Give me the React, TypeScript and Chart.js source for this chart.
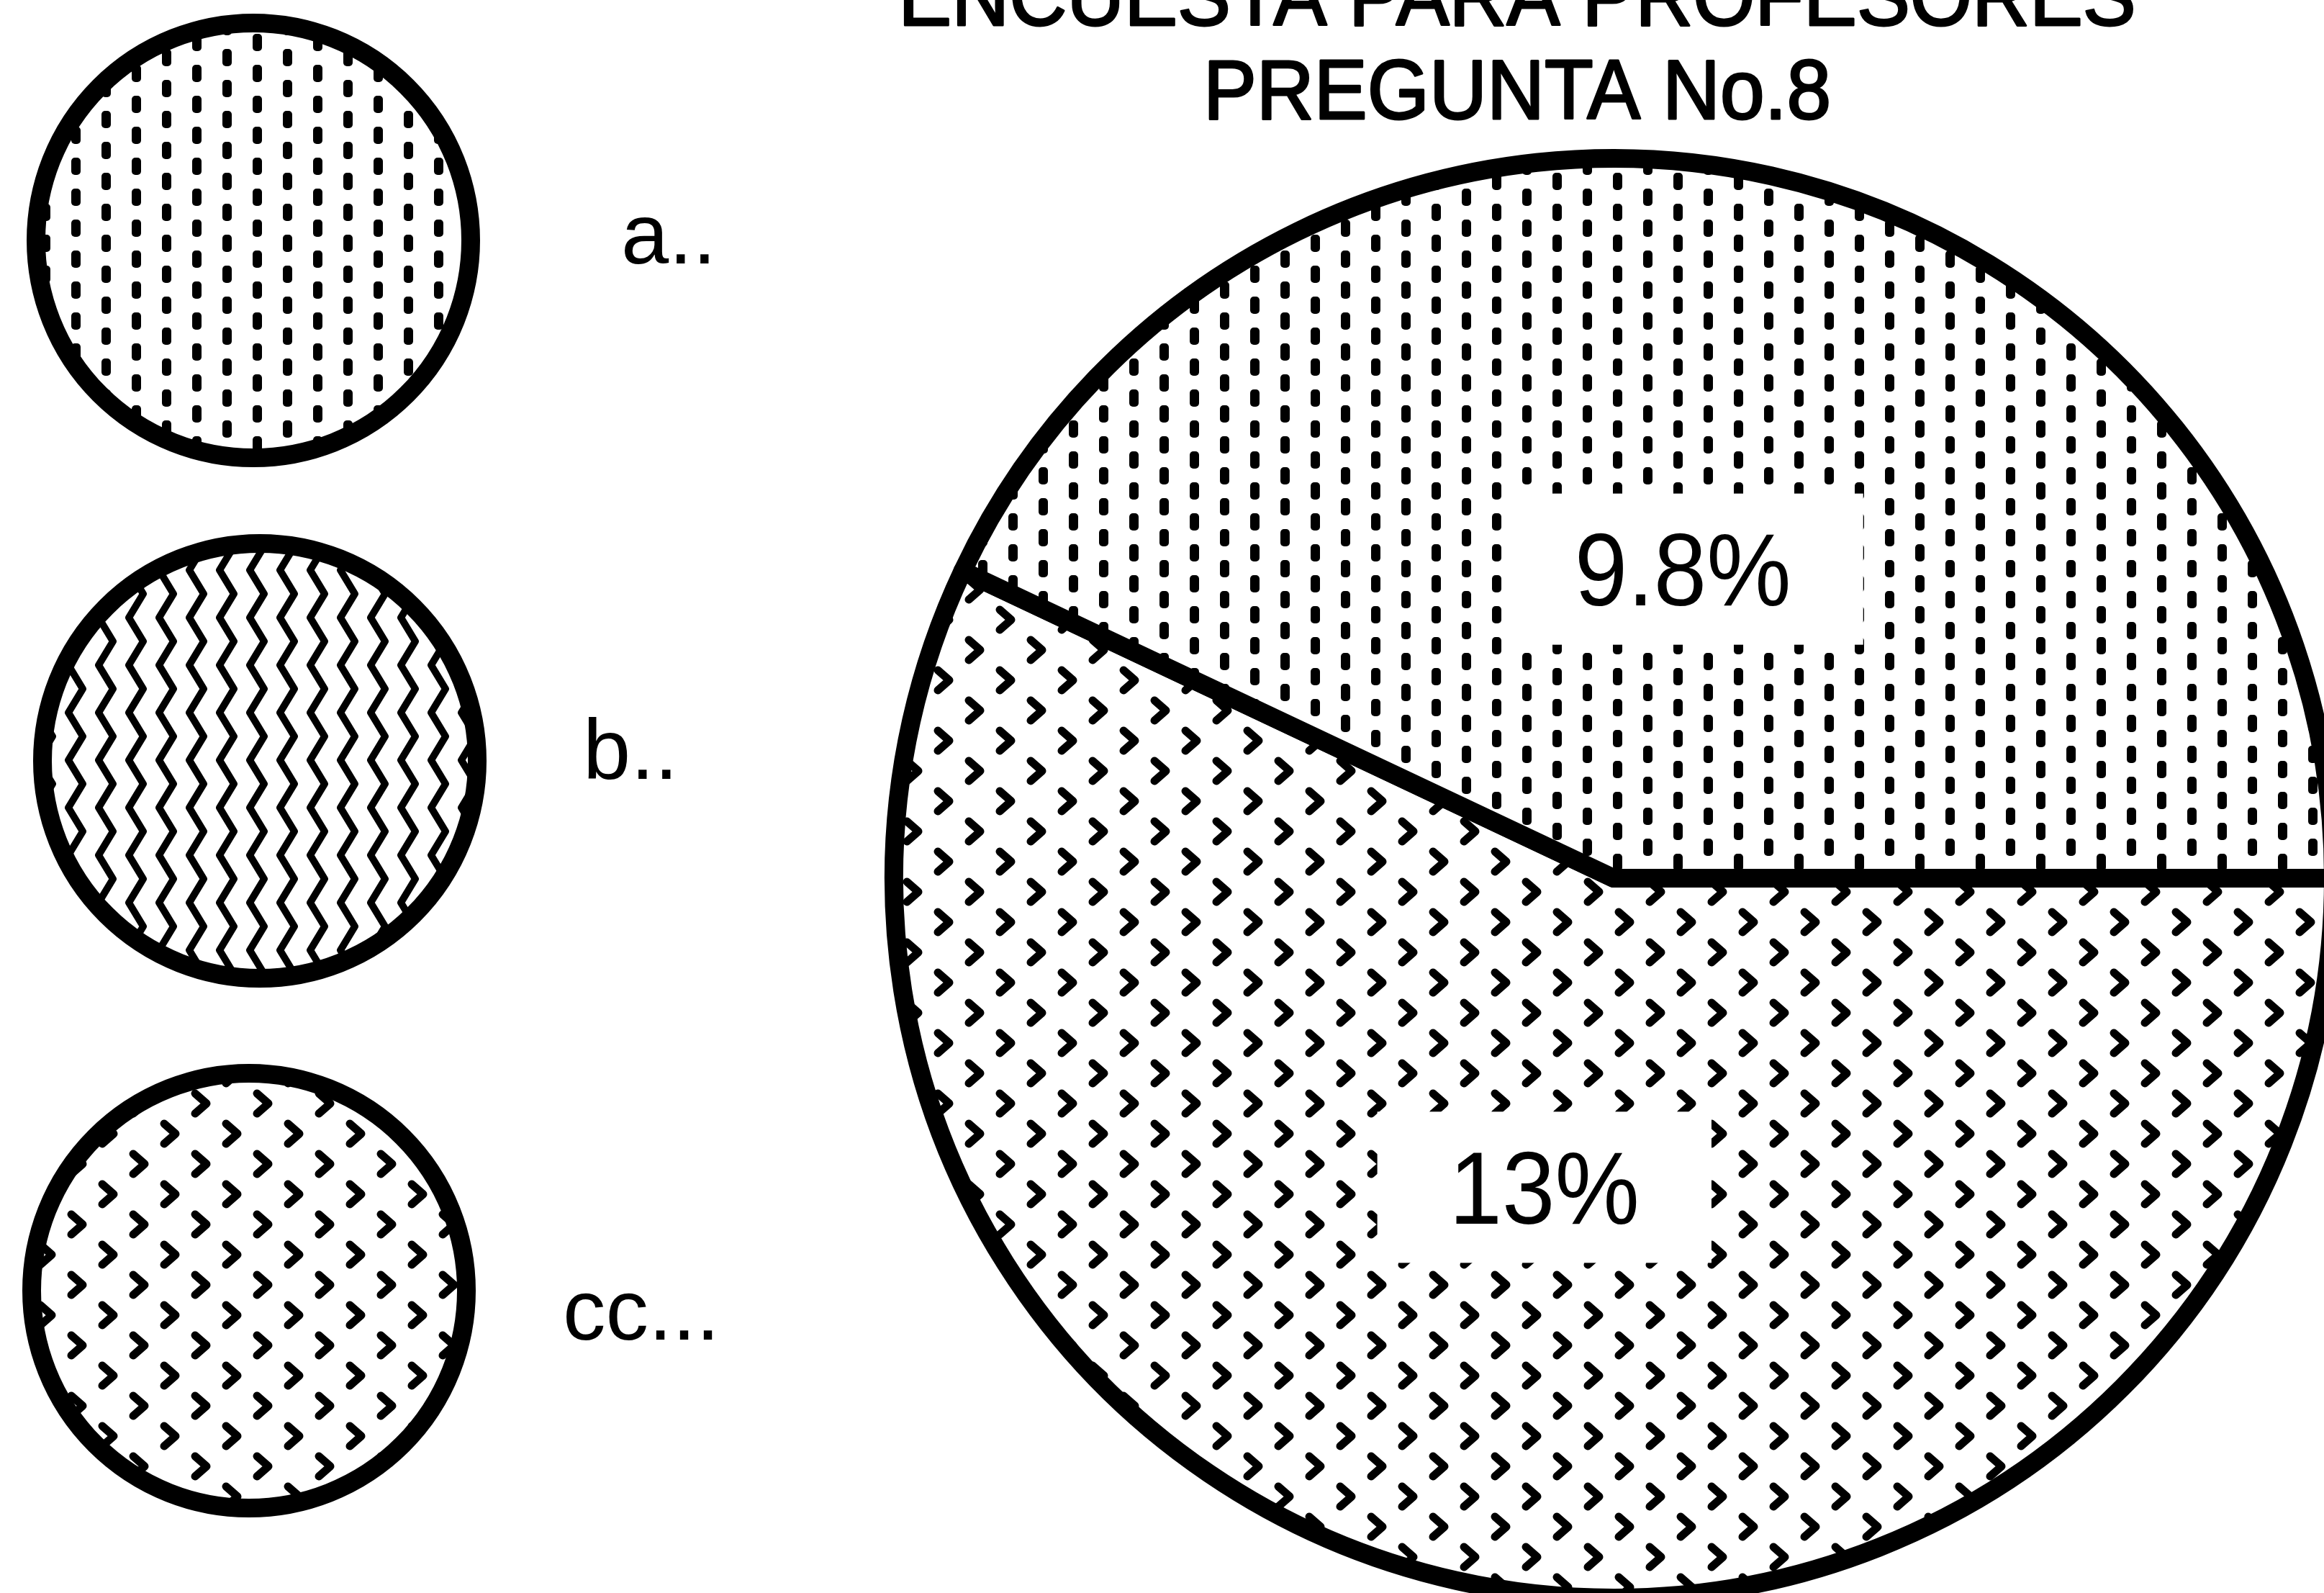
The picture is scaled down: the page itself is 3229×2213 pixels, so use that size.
import React, { useEffect, useRef } from 'react';
import { Chart, registerables } from 'chart.js';

Chart.register(...registerables);

// ---- data ----
const TITLE_LINES = ['ENCUESTA PARA PROFESORES', 'PREGUNTA No.8'];
const LEGEND_LABELS = ['a..', 'b..', 'cc...'];
const LEGEND_FILLS = ['dashes', 'waves', 'chevrons'];
const SLICE_CATEGORIES = ['cc...', 'a..'];
const SLICE_VALUES = [13, 9.8];
const SLICE_FILLS = ['chevrons', 'dashes'];
const SLICE_LABELS = ['13%', '9.8%'];

// ---- layout ----
const W = 3229;
const H = 2213;
const FONT = '"Liberation Sans", Arial, Helvetica, sans-serif';
const PIE_CENTER = { x: 2242, y: 1220 };
const PIE_RADIUS = 1000;
const BORDER = 26;
const LEGEND_LAYOUT = {
  circleX: [352, 361, 346],
  circleY: [334, 1057, 1793],
  radius: 302,
  textX: [863, 810, 782],
  textY: [366, 1082, 1861],
  fontSize: 119,
};
const TITLE_LAYOUT = { x: 2108, baselines: [35, 165], fontSize: 116, scaleX: 0.955 };

function makePattern(kind: string): CanvasPattern {
  const c = document.createElement('canvas');
  const g = c.getContext('2d') as CanvasRenderingContext2D;
  if (kind === 'dashes') {
    c.width = 84;
    c.height = 86;
    g.fillStyle = '#fff';
    g.fillRect(0, 0, c.width, c.height);
    g.fillStyle = '#000';
    const dash = (x: number, y: number) => {
      for (const dy of [-86, 0, 86]) {
        g.beginPath();
        (g as any).roundRect(x, y + dy, 13, 24, 5);
        g.fill();
      }
    };
    dash(15, 4);
    dash(15, 47);
    dash(57, 25);
    dash(57, 68);
  } else if (kind === 'waves') {
    c.width = 42;
    c.height = 66;
    g.fillStyle = '#fff';
    g.fillRect(0, 0, c.width, c.height);
    g.strokeStyle = '#000';
    g.lineWidth = 10;
    g.lineJoin = 'round';
    g.lineCap = 'round';
    for (const dx of [-42, 0, 42]) {
      g.beginPath();
      // zig-zag: left at y=0, right at y=33, left at y=66
      g.moveTo(21 + dx + 10, -33);
      g.lineTo(21 + dx - 10, 0);
      g.lineTo(21 + dx + 10, 33);
      g.lineTo(21 + dx - 10, 66);
      g.lineTo(21 + dx + 10, 99);
      g.stroke();
    }
  } else {
    c.width = 86;
    c.height = 84;
    g.fillStyle = '#fff';
    g.fillRect(0, 0, c.width, c.height);
    g.strokeStyle = '#000';
    g.lineWidth = 11;
    g.lineJoin = 'round';
    g.lineCap = 'round';
    const chev = (cx: number, cy: number) => {
      g.beginPath();
      g.moveTo(cx - 8, cy - 14);
      g.lineTo(cx + 8, cy);
      g.lineTo(cx - 8, cy + 14);
      g.stroke();
    };
    chev(21, 21);
    chev(64, 63);
  }
  return g.createPattern(c, 'repeat') as CanvasPattern;
}

export default function App() {
  const ref = useRef<HTMLCanvasElement | null>(null);

  useEffect(() => {
    const canvas = ref.current;
    if (!canvas) return;
    const patterns: Record<string, CanvasPattern> = {
      dashes: makePattern('dashes'),
      waves: makePattern('waves'),
      chevrons: makePattern('chevrons'),
    };

    const sliceLabelPlugin = {
      id: 'sliceLabels',
      afterDatasetsDraw(chart: any) {
        const ctx = chart.ctx as CanvasRenderingContext2D;
        const meta = chart.getDatasetMeta(0);
        const size = 142;
        const sx = 0.93;
        meta.data.forEach((arc: any, i: number) => {
          const p = arc.getProps(['x', 'y', 'startAngle', 'endAngle', 'outerRadius'], true);
          const mid = (p.startAngle + p.endAngle) / 2;
          const r = p.outerRadius * 0.44;
          const cx = p.x + Math.cos(mid) * r;
          const cy = p.y + Math.sin(mid) * r;
          const text = SLICE_LABELS[i];
          ctx.save();
          ctx.font = `${size}px ${FONT}`;
          const tw = ctx.measureText(text).width * sx;
          ctx.fillStyle = '#fff';
          ctx.fillRect(cx - tw / 2 - 100, cy - 105, tw + 200, 210);
          ctx.translate(cx, cy + 0.358 * size);
          ctx.scale(sx, 1);
          ctx.fillStyle = '#000';
          ctx.textAlign = 'center';
          ctx.textBaseline = 'alphabetic';
          ctx.fillText(text, 0, 0);
          ctx.restore();
        });
      },
    };

    const decorPlugin = {
      id: 'decor',
      afterDraw(chart: any) {
        const ctx = chart.ctx as CanvasRenderingContext2D;
        // title
        ctx.save();
        ctx.fillStyle = '#000';
        ctx.strokeStyle = '#000';
        ctx.lineWidth = 3;
        ctx.lineJoin = 'round';
        ctx.font = `${TITLE_LAYOUT.fontSize}px ${FONT}`;
        ctx.textAlign = 'center';
        ctx.textBaseline = 'alphabetic';
        TITLE_LINES.forEach((line, i) => {
          ctx.save();
          ctx.translate(TITLE_LAYOUT.x, TITLE_LAYOUT.baselines[i]);
          ctx.scale(TITLE_LAYOUT.scaleX, 1);
          ctx.fillText(line, 0, 0);
          ctx.strokeText(line, 0, 0);
          ctx.restore();
        });
        ctx.restore();
        // legend
        LEGEND_LABELS.forEach((label, i) => {
          ctx.save();
          ctx.beginPath();
          ctx.arc(LEGEND_LAYOUT.circleX[i], LEGEND_LAYOUT.circleY[i], LEGEND_LAYOUT.radius, 0, Math.PI * 2);
          ctx.fillStyle = patterns[LEGEND_FILLS[i]];
          ctx.fill();
          ctx.lineWidth = BORDER;
          ctx.strokeStyle = '#000';
          ctx.stroke();
          ctx.fillStyle = '#000';
          ctx.font = `${LEGEND_LAYOUT.fontSize}px ${FONT}`;
          ctx.textAlign = 'left';
          ctx.textBaseline = 'alphabetic';
          ctx.fillText(label, LEGEND_LAYOUT.textX[i], LEGEND_LAYOUT.textY[i]);
          ctx.restore();
        });
      },
    };

    const padLeft = 2 * PIE_CENTER.x - W;
    const padTop = 2 * PIE_CENTER.y - H;

    const chart = new Chart(canvas, {
      type: 'pie',
      data: {
        labels: SLICE_CATEGORIES,
        datasets: [
          {
            data: SLICE_VALUES,
            backgroundColor: SLICE_FILLS.map((f) => patterns[f]),
            borderColor: '#000',
            borderWidth: BORDER,
            borderJoinStyle: 'round',
            hoverOffset: 0,
          } as any,
        ],
      },
      options: {
        responsive: false,
        animation: false,
        events: [],
        rotation: 90,
        radius: PIE_RADIUS,
        layout: { padding: { left: padLeft, right: 0, top: padTop, bottom: 0 } },
        plugins: {
          legend: { display: false },
          title: { display: false },
          tooltip: { enabled: false },
        },
      } as any,
      plugins: [sliceLabelPlugin, decorPlugin],
    });
    return () => chart.destroy();
  }, []);

  return (
    <div
      style={{
        position: 'fixed',
        left: 0,
        top: 0,
        width: W,
        height: H,
        overflow: 'hidden',
        background: '#fff',
      }}
    >
      <canvas ref={ref} width={W} height={H} style={{ display: 'block', width: W, height: H }} />
    </div>
  );
}
